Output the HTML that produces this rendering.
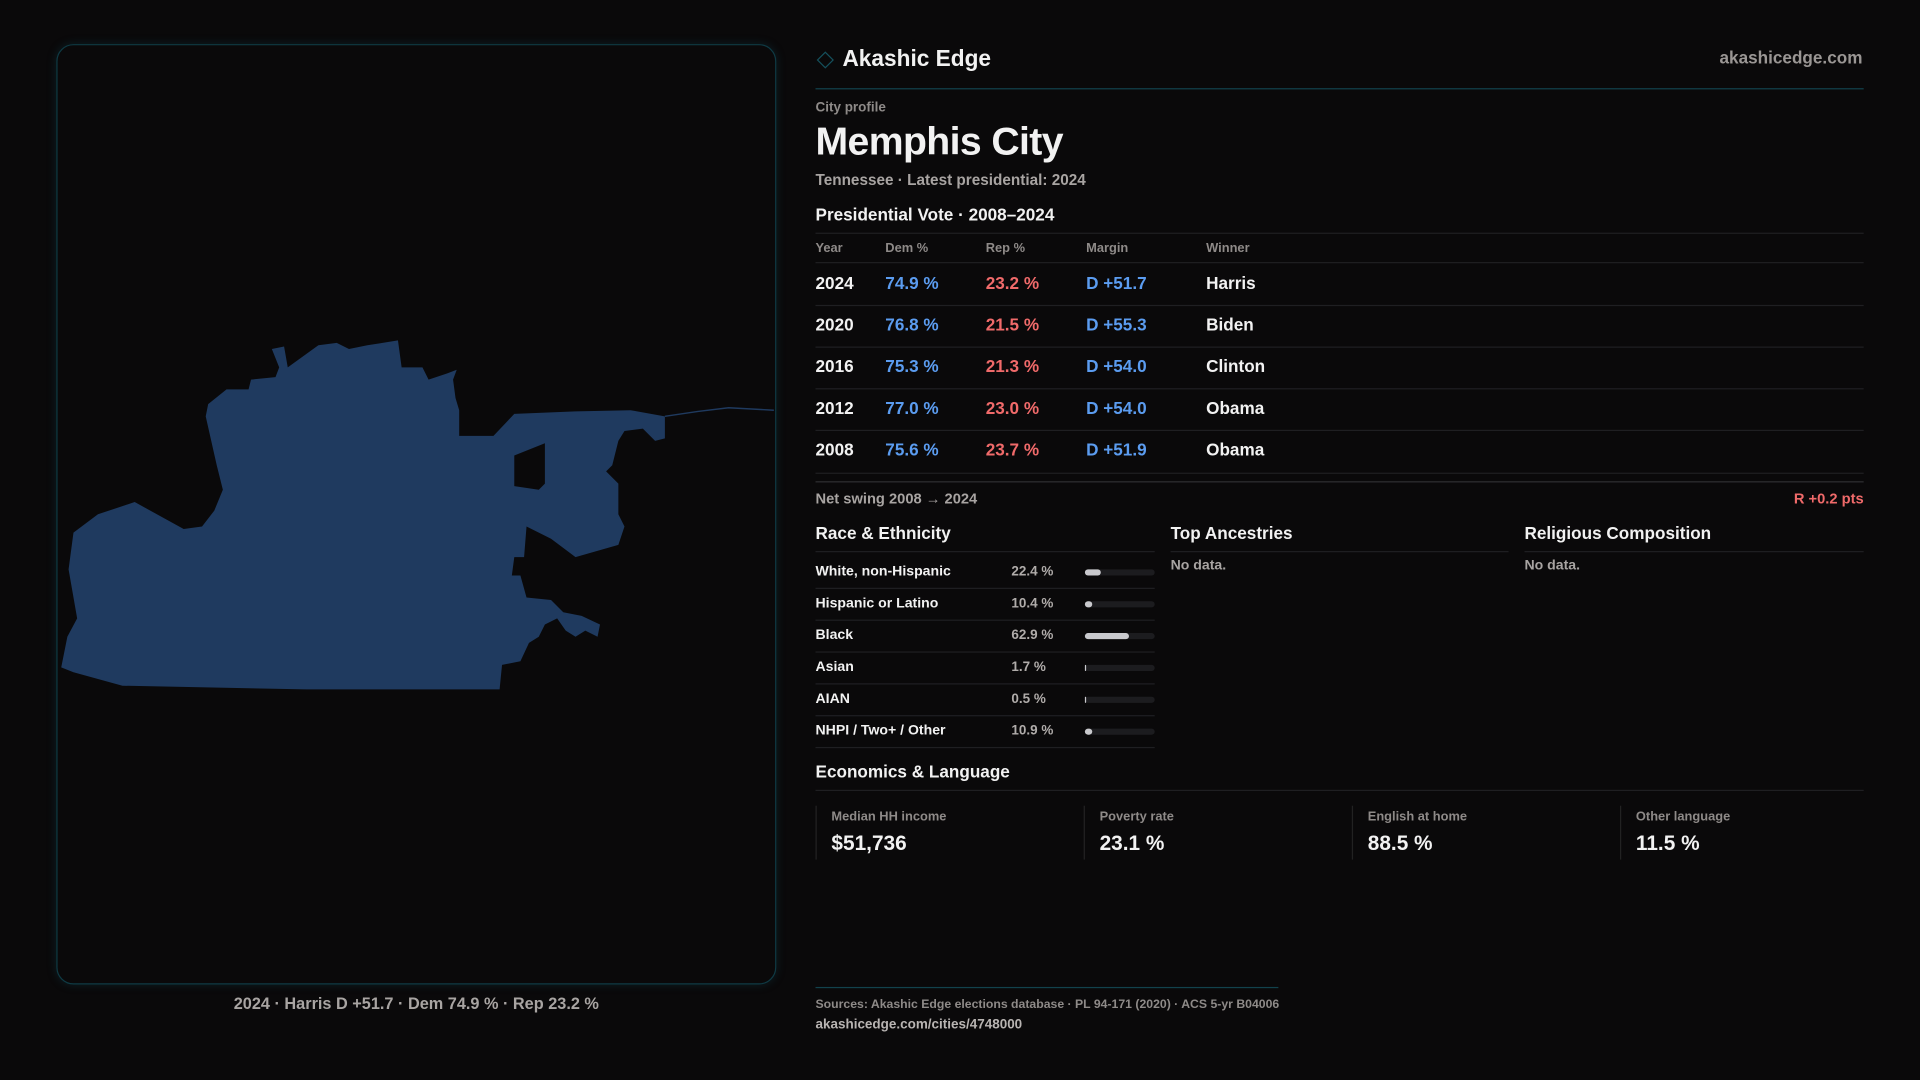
<!DOCTYPE html>
<html><head><meta charset="utf-8">
<style>
html,body{margin:0;padding:0;background:#0a090a;width:1920px;height:1080px;overflow:hidden}
#stage{position:absolute;left:0;top:0;width:1568px;height:882px;transform:scale(1.22449);transform-origin:0 0;font-family:"Liberation Sans",sans-serif;color:#f2f2f2}
.a{position:absolute;white-space:nowrap}
.hr{position:absolute;height:1px;background:#1f1f22}
.g{color:#8e8a88}
.b{font-weight:bold}
.dem{color:#5b9cf0}.rep{color:#f06a6a}
</style></head><body>
<div id="stage">
<div class="a" style="left:46px;top:36px;width:586px;height:766px;border:1px solid #0f3a44;border-radius:14px;box-shadow:0 0 8px rgba(20,90,110,0.25)"></div>
<svg class="a" style="left:0;top:0" width="640" height="800">
<path fill="#1f3a5f" fill-rule="evenodd" d="M222,285 L232,283 L235,300 L260,282 L275,280 L285,285 L300,282 L325,278 L328,300 L345,300 L350,310 L365,305 L373,302 L370,310 L372,325 L375,335 L375,356 L403,356 L420,338 L470,336 L515,335 L543,340 L543,358 L535,360 L525,350 L510,352 L505,360 L500,380 L495,385 L505,395 L505,420 L510,430 L505,445 L470,455 L450,440 L430,430 L428,455 L420,455 L418,470 L425,470 L430,488 L450,490 L460,500 L475,503 L490,510 L488,520 L478,515 L470,520 L462,515 L455,505 L445,510 L440,520 L432,525 L425,540 L410,543 L408,563 L250,563 L100,560 L60,549 L50,545 L55,520 L63,505 L56,465 L60,435 L80,420 L110,410 L150,432 L165,430 L175,417 L182,400 L177,380 L168,340 L170,330 L185,318 L203,318 L205,310 L225,308 L228,300 Z M420,372 L445,362 L445,395 L440,400 L420,397 Z"/>
<path d="M543,340 L570,336 L595,333 L632,335" stroke="#1f3a5f" stroke-width="1.2" fill="none"/>
</svg>
<div class="a" style="left:46px;width:588px;top:812px;text-align:center;font-size:13.3px;color:#a8a4a2;font-weight:bold">2024 · Harris D +51.7 · Dem 74.9 % · Rep 23.2 %</div>

<div class="a" style="left:669px;top:44px;width:8px;height:8px;border:1.5px solid #15505c;transform:rotate(45deg)"></div>
<div class="a b" style="left:688px;top:37px;font-size:18.5px">Akashic Edge</div>
<div class="a b" style="right:47px;top:39px;font-size:14px;color:#9a9694">akashicedge.com</div>
<div class="hr" style="left:666px;top:72px;width:856px;background:#12424c"></div>
<div class="a b g" style="left:666px;top:82px;font-size:11px">City profile</div>
<div class="a b" style="left:666px;top:97px;font-size:32px;letter-spacing:-0.5px">Memphis City</div>
<div class="a b" style="left:666px;top:140px;font-size:12.5px;color:#a8a4a2">Tennessee · Latest presidential: 2024</div>
<div class="a b" style="left:666px;top:167px;font-size:14px">Presidential Vote · 2008–2024</div>
<div class="hr" style="left:666px;top:190px;width:856px"></div>
<div id="vote"></div>
<div class="hr" style="left:666px;top:393px;width:856px;background:#2e2e31"></div>
<div class="a b g" style="left:666px;top:400px;font-size:12px;color:#a8a4a2">Net swing 2008 → 2024</div>
<div class="a b rep" style="right:46px;top:400px;font-size:12px">R +0.2 pts</div>

<div class="a b" style="left:666px;top:427px;font-size:14px">Race &amp; Ethnicity</div>
<div class="a b" style="left:956px;top:427px;font-size:14px">Top Ancestries</div>
<div class="a b" style="left:1245px;top:427px;font-size:14px">Religious Composition</div>
<div class="hr" style="left:666px;top:450px;width:277px"></div>
<div class="hr" style="left:956px;top:450px;width:276px"></div>
<div class="hr" style="left:1245px;top:450px;width:277px"></div>
<div class="a b g" style="left:956px;top:456px;font-size:11.5px;color:#a8a4a2">No data.</div>
<div class="a b g" style="left:1245px;top:456px;font-size:11.5px;color:#a8a4a2">No data.</div>
<div id="race"></div>

<div class="a b" style="left:666px;top:622px;font-size:14px">Economics &amp; Language</div>
<div class="hr" style="left:666px;top:645px;width:856px"></div>
<div id="econ"></div>

<div class="hr" style="left:666px;top:806px;width:378px;background:#12424c"></div>
<div class="a b g" style="left:666px;top:815px;font-size:10px">Sources: Akashic Edge elections database · PL 94-171 (2020) · ACS 5-yr B04006</div>
<div class="a b" style="left:666px;top:831px;font-size:11px;color:#b8b4b2">akashicedge.com/cities/4748000</div>
</div>
<script>
const years=["2024","2020","2016","2012","2008"];
const demPct=[74.9,76.8,75.3,77.0,75.6];
const repPct=[23.2,21.5,21.3,23.0,23.7];
const winners=["Harris","Biden","Clinton","Obama","Obama"];
const raceLabels=["White, non-Hispanic","Hispanic or Latino","Black","Asian","AIAN","NHPI / Two+ / Other"];
const raceValues=[22.4,10.4,62.9,1.7,0.5,10.9];
const econLabels=["Median HH income","Poverty rate","English at home","Other language"];
const econValues=["$51,736","23.1 %","88.5 %","11.5 %"];

function mk(parent,cls,style,text){const d=document.createElement('div');d.className=cls;d.style.cssText=style;if(text!==undefined)d.textContent=text;parent.appendChild(d);return d;}
const vote=document.getElementById('vote');
const cols=[666,723,805,887,985];
["Year","Dem %","Rep %","Margin","Winner"].forEach((h,i)=>{
  const e=mk(vote,'a b g',`left:${cols[i]}px;top:197px;font-size:10.5px`,h);
  
  
});
mk(vote,'hr','left:666px;top:214px;width:856px');
years.forEach((y,i)=>{
  const top=223+i*34;
  const m=demPct[i]-repPct[i];
  const vals=[[y,''],[demPct[i].toFixed(1)+' %','dem'],[repPct[i].toFixed(1)+' %','rep'],[(m>=0?'D +':'R +')+Math.abs(m).toFixed(1),m>=0?'dem':'rep'],[winners[i],'']];
  vals.forEach((v,j)=>{
    const e=mk(vote,'a b '+v[1],`left:${cols[j]}px;top:${top}px;font-size:14px`,v[0]);
    
    
  });
  if(i<4) mk(vote,'hr',`left:666px;top:${top+26}px;width:856px`);
});
mk(vote,'hr','left:666px;top:386px;width:856px');

const race=document.getElementById('race');
raceLabels.forEach((l,i)=>{
  const cy=467+i*26;
  const e1=mk(race,'a b',`left:666px;top:${cy-6}px;font-size:11.5px`,l);
  
  
  const e2=mk(race,'a b',`left:826px;top:${cy-6}px;font-size:11px;color:#b0acaa`,raceValues[i].toFixed(1)+' %');
  
  
  const tr=mk(race,'a',`left:886px;top:${cy-2}px;width:57px;height:5px;border-radius:3px;background:#1c1c1f`);
  
  
  const w=57*raceValues[i]/100;
  const f=mk(tr,'a',`left:0;top:0;width:${w}px;height:5px;border-radius:3px;background:#c9c9cd`);
  
  
  mk(race,'hr',`left:666px;top:${cy+13}px;width:277px`);
});

const econ=document.getElementById('econ');
econLabels.forEach((l,i)=>{
  const x=666+i*219;
  const c=mk(econ,'a',`left:${x}px;top:658px;width:218px;height:44px;border-left:1px solid #222`);
  
  
  mk(c,'a b g',`left:12px;top:3px;font-size:10.5px`,l);
  mk(c,'a b',`left:12px;top:21px;font-size:17px`,econValues[i]);
});
</script>
</body></html>
